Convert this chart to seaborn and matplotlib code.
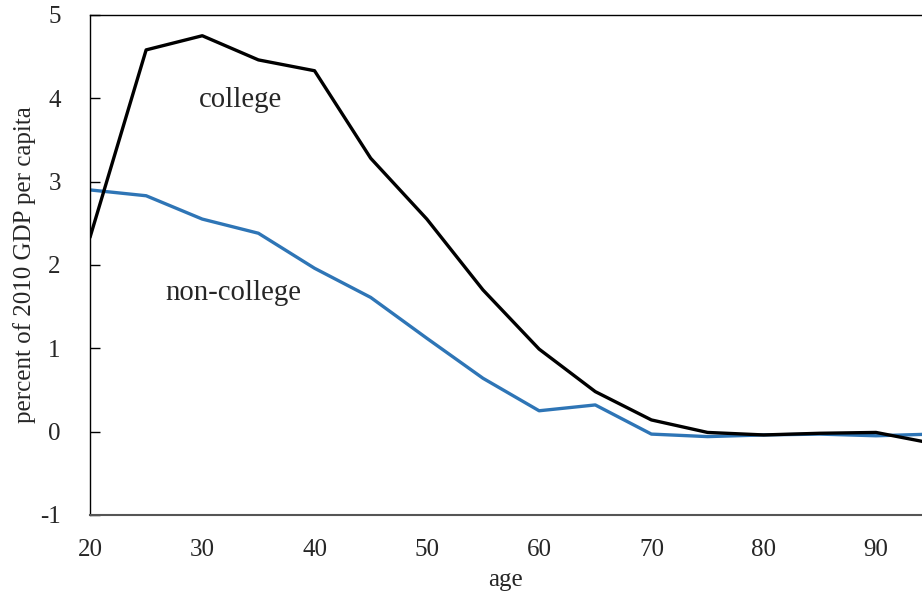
import pandas as pd
import numpy as np
import seaborn as sns
import matplotlib.pyplot as plt

# values
age = [20, 25, 30, 35, 40, 45, 50, 55, 60, 65, 70, 75, 80, 85, 90, 95]
college = [2.33, 4.58, 4.75, 4.46, 4.33, 3.28, 2.55, 1.70, 0.99, 0.48,
           0.14, -0.01, -0.04, -0.02, -0.01, -0.14]
non_college = [2.90, 2.83, 2.55, 2.38, 1.96, 1.61, 1.12, 0.64, 0.25, 0.32,
               -0.03, -0.06, -0.04, -0.03, -0.05, -0.03]

df = pd.DataFrame({"age": age, "college": college, "non-college": non_college})

sns.set_style("white")
plt.rcParams['font.family'] = ['Liberation Serif', 'DejaVu Serif']
plt.rcParams['axes.unicode_minus'] = False

fig = plt.figure(figsize=(9.22, 5.96), dpi=100)
ax = fig.add_axes([0.0976, 0.136, 0.9024, 0.839])

sns.lineplot(data=df, x="age", y="non-college", color="#2E75B6", linewidth=2.4, ax=ax)
sns.lineplot(data=df, x="age", y="college", color="black", linewidth=2.4, ax=ax)

ax.text(33.4, 3.98, "college", fontsize=20.7, ha="center", va="center")
ax.text(32.8, 1.66, "non-college", fontsize=20.7, ha="center", va="center")

ax.set_xlim(20, 94.1)
ax.set_ylim(-1, 5)
ax.set_xticks(range(20, 91, 10))
ax.set_yticks(range(-1, 6))
ax.tick_params(axis="x", length=0, labelsize=18, pad=17)
ax.tick_params(axis="y", left=True, direction="in", length=7, width=1,
               labelsize=18, pad=21, color="black")
ax.set_xlabel("age", fontsize=18, labelpad=6)
ax.set_ylabel("percent of 2010 GDP per capita", fontsize=18, labelpad=3)

ax.spines["right"].set_visible(False)
for s in ["left", "top"]:
    ax.spines[s].set_color("black")
    ax.spines[s].set_linewidth(1)
ax.spines["bottom"].set_color("#555555")
ax.spines["bottom"].set_linewidth(1.5)

fig.savefig("out.png", dpi=100)
